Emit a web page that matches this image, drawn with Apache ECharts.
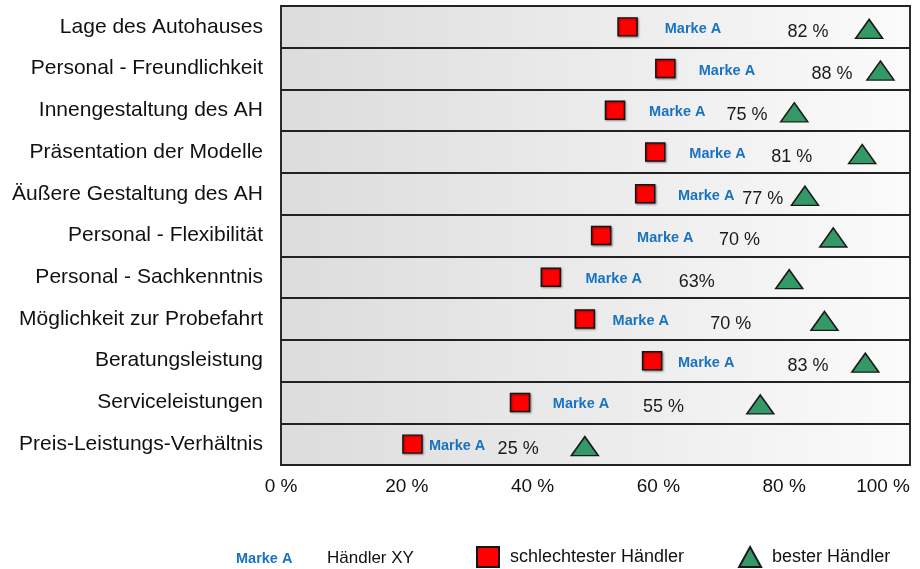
<!DOCTYPE html>
<html lang="de">
<head>
    <meta charset="UTF-8">
    <title>Händlervergleich</title>
    <style>
        html, body { margin: 0; padding: 0; background: #fff; }
    </style>
</head>
<body>
<div id="main" style="width: 920px;height:569px;"></div>
<script src="https://cdn.jsdelivr.net/npm/echarts@6/dist/echarts.min.js"></script>
<script>
    var categories = ['Lage des Autohauses', 'Personal - Freundlichkeit', 'Innengestaltung des AH',
        'Präsentation der Modelle', 'Äußere Gestaltung des AH', 'Personal - Flexibilität',
        'Personal - Sachkenntnis', 'Möglichkeit zur Probefahrt', 'Beratungsleistung',
        'Serviceleistungen', 'Preis-Leistungs-Verhältnis'];
    // schlechtester Händler (Quadrat), in %
    var worst = [55.1, 61.1, 53.1, 59.5, 57.9, 50.9, 42.9, 48.3, 59.0, 38.0, 20.9];
    // bester Händler (Dreieck), in %
    var best = [93.5, 95.3, 81.6, 92.4, 83.3, 87.8, 80.8, 86.4, 92.9, 76.2, 48.3];
    // Händler XY / Marke A
    var markeAText = ['82 %', '88 %', '75 %', '81 %', '77 %', '70 %', '63%', '70 %', '83 %', '55 %', '25 %'];
    // where the tags sit on the % scale
    var markeAAt = [65.5, 70.9, 63.0, 69.4, 67.6, 61.1, 52.9, 57.2, 67.6, 47.7, 28.0];
    var markeATextAt = [83.8, 87.6, 74.1, 81.2, 76.6, 72.9, 66.1, 71.5, 83.8, 60.8, 37.7];
    var xTicks = [0, 20, 40, 60, 80, 100];

    var blue = '#1a73c0';

    function pairs(xs) {
        return xs.map(function (v, i) { return [v, categories[i]]; });
    }

    var myChart = echarts.init(document.getElementById('main'));
    var option = {
        backgroundColor: '#ffffff',
        textStyle: { fontFamily: '"Liberation Sans", Arial, sans-serif' },
        grid: {
            left: 281, right: 10, top: 6, bottom: 104,
            show: true,
            borderColor: '#2a2a2a',
            borderWidth: 2,
            backgroundColor: new echarts.graphic.LinearGradient(0, 0, 1, 0, [
                { offset: 0, color: '#dcdcdc' },
                { offset: 0.5, color: '#ebebeb' },
                { offset: 1, color: '#fbfbfb' }
            ])
        },
        legend: [{
            left: 226, top: 541,
            itemWidth: 0, itemHeight: 20, itemGap: 0,
            data: [{ name: 'Händler XY', icon: 'none' }],
            formatter: function () { return '{m|Marke A}{t|Händler XY}'; },
            textStyle: {
                rich: {
                    m: { fontWeight: 'bold', fontSize: 14.5, color: blue, width: 91, verticalAlign: 'bottom', padding: [6, 0, 0, 0] },
                    t: { fontSize: 17, color: '#111', verticalAlign: 'bottom' }
                }
            },
            selectedMode: false
        }, {
            left: 471, top: 541,
            itemWidth: 22, itemHeight: 20, itemGap: 54,
            data: ['schlechtester Händler', 'bester Händler'],
            textStyle: { fontSize: 18, color: '#111', padding: [0, 0, 0, 6] },
            selectedMode: false
        }],
        xAxis: {
            type: 'value',
            min: xTicks[0], max: xTicks[xTicks.length - 1], interval: 20,
            axisLine: { show: false },
            axisTick: { show: false },
            splitLine: { show: false },
            axisLabel: {
                formatter: '{value} %', fontSize: 19, color: '#111', margin: 12,
                alignMaxLabel: 'right'
            }
        },
        yAxis: {
            type: 'category',
            inverse: true,
            data: categories,
            axisLine: { show: false },
            axisTick: { show: false },
            splitLine: { show: true, lineStyle: { color: '#222', width: 2 } },
            axisLabel: { fontSize: 21, color: '#111', margin: 18 }
        },
        series: [{
            name: 'schlechtester Händler',
            type: 'scatter',
            symbol: 'rect',
            symbolSize: [19, 18],
            data: pairs(worst),
            itemStyle: {
                color: '#ff0000', borderColor: '#151515', borderWidth: 1.5, opacity: 1,
                shadowColor: 'rgba(0,0,0,0.35)', shadowBlur: 2, shadowOffsetX: 1, shadowOffsetY: 1
            },
            z: 3
        }, {
            name: 'bester Händler',
            type: 'scatter',
            symbol: 'triangle',
            symbolSize: [27, 19],
            symbolOffset: [0, 2],
            data: pairs(best),
            itemStyle: { color: '#339966', borderColor: '#1a1a1a', borderWidth: 1.5, opacity: 1 },
            z: 3
        }, {
            name: 'Händler XY',
            type: 'scatter',
            symbolSize: 0,
            data: pairs(markeAAt),
            itemStyle: { color: blue, opacity: 1 },
            label: {
                show: true, position: 'inside', offset: [0, 2],
                formatter: 'Marke A',
                fontWeight: 'bold', fontSize: 14.5, color: blue
            },
            silent: true,
            z: 4
        }, {
            name: 'Anteil',
            type: 'scatter',
            symbolSize: 0,
            data: pairs(markeATextAt),
            itemStyle: { opacity: 1 },
            label: {
                show: true, position: 'inside', offset: [0, 5],
                formatter: function (p) { return markeAText[p.dataIndex]; },
                fontSize: 18, color: '#1a1a1a'
            },
            silent: true,
            z: 4
        }]
    };
    myChart.setOption(option);
</script>
</body>
</html>
